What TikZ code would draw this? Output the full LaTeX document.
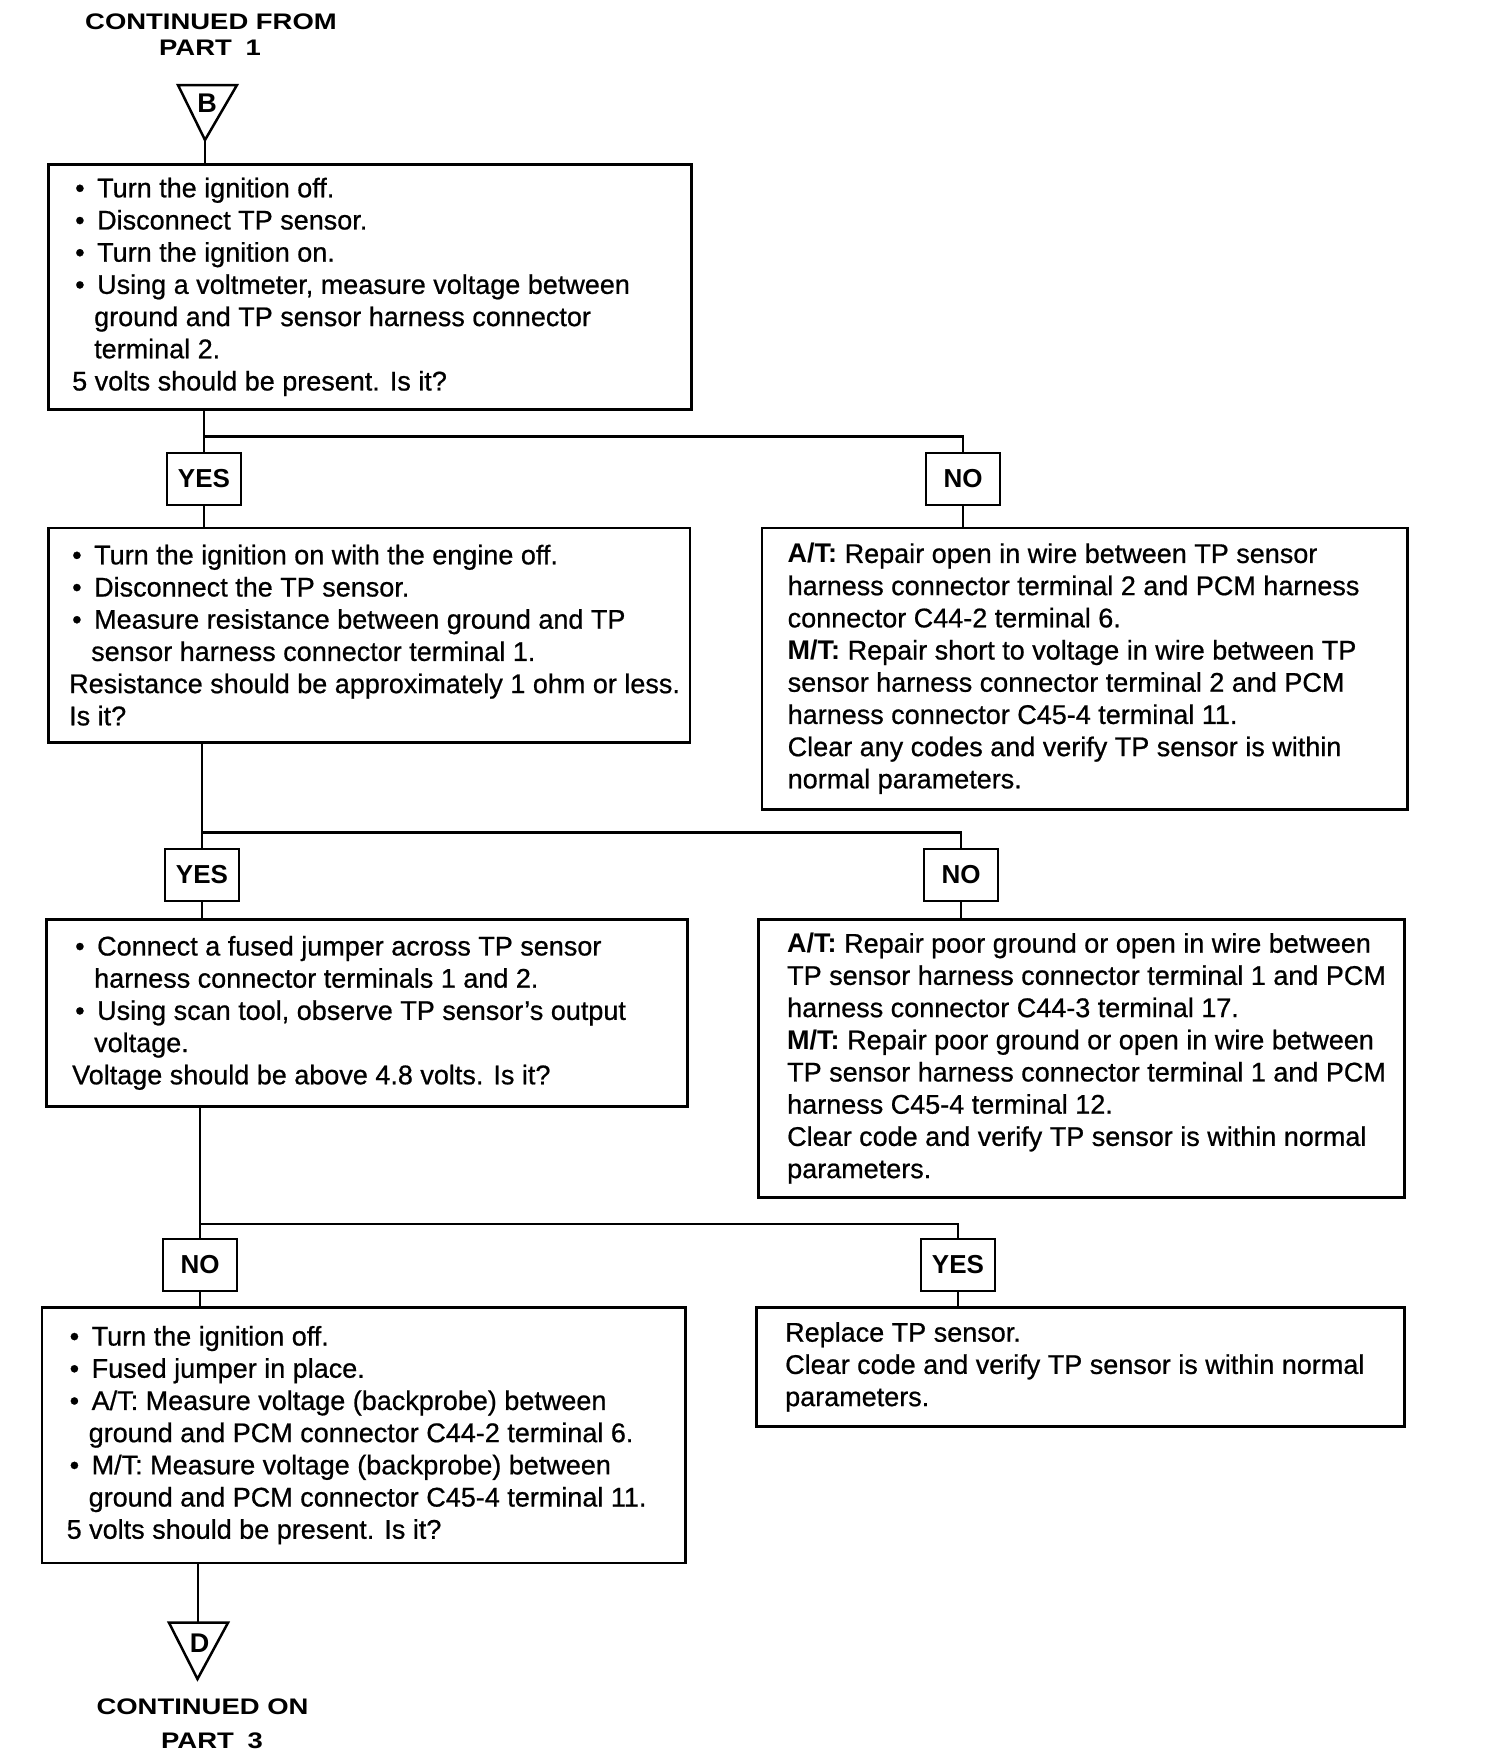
\documentclass[tikz,border=0pt]{standalone}
\usepackage{fontspec}
\setmainfont{Liberation Sans}[UprightFeatures={FakeBold=0.7}]
\newcommand{\bul}{\hspace*{3pt}\makebox[22pt][l]{\textbullet}}
\newcommand{\hng}{\hspace*{22pt}}
\begin{document}
\begin{tikzpicture}[x=1pt,y=-1pt,
  stepbox/.style={draw, line width=2.8pt, rectangle, inner sep=0pt, anchor=north west},
  txt/.style={font=\fontsize{27}{32.2}\selectfont, align=left, inner sep=0pt, anchor=west},
  ans/.style={draw, line width=2.6pt, minimum width=74pt, minimum height=52pt, inner sep=0pt, font=\fontsize{26}{26}\bfseries\selectfont},
  conn/.style={line width=2.5pt},
  hdr/.style={font=\fontsize{22.5}{22.5}\bfseries\selectfont, inner sep=0pt},
  letter/.style={font=\fontsize{27}{27}\bfseries\selectfont, inner sep=0pt}]
\useasboundingbox (0,0) rectangle (1504,1764);

% header
\node[hdr] (from) at (211,22) {\scalebox{1.22}[1]{CONTINUED FROM}};
\node[hdr] (p1) at (210,48) {\scalebox{1.22}[1]{PART\hspace{0.5em}1}};
\draw[conn] (178,85) -- (237,85) -- (205,140) -- cycle;
\coordinate (apB) at (205,140);
\node[letter] (lB) at (207,103) {B};

% boxes
\node[stepbox, minimum width=643pt, minimum height=245pt] (b1) at (47,163) {};
\node[txt] (t1) at ([xshift=25pt]b1.west) {\bul Turn the ignition off.\\
\bul Disconnect TP sensor.\\
\bul Turn the ignition on.\\
\bul Using a voltmeter, measure voltage between\\
\hng ground and TP sensor harness connector\\
\hng terminal 2.\\
5 volts should be present. Is it?};

\node[ans] (y1) at (204,479) {YES};
\node[ans] (n1) at (963,479) {NO};
\coordinate (j1) at (0,436.5);

\node[stepbox, minimum width=641.5pt, minimum height=214.5pt] (b2) at (47,526.5) {};
\node[txt] (t2) at ([xshift=22pt]b2.west) {\bul Turn the ignition on with the engine off.\\
\bul Disconnect the TP sensor.\\
\bul Measure resistance between ground and TP\\
\hng sensor harness connector terminal 1.\\
Resistance should be approximately 1 ohm or less.\\
Is it?};

\node[stepbox, minimum width=645.5pt, minimum height=281.5pt] (b3) at (760.5,526.5) {};
\node[txt] (t3) at ([xshift=27pt]b3.west) {\textbf{A/T:} Repair open in wire between TP sensor\\
harness connector terminal 2 and PCM harness\\
connector C44-2 terminal 6.\\
\textbf{M/T:} Repair short to voltage in wire between TP\\
sensor harness connector terminal 2 and PCM\\
harness connector C45-4 terminal 11.\\
Clear any codes and verify TP sensor is within\\
normal parameters.};

\node[ans] (y2) at (202,875) {YES};
\node[ans] (n2) at (961,875) {NO};
\coordinate (j2) at (0,832.5);

\node[stepbox, minimum width=641pt, minimum height=187pt] (b4) at (45,918) {};
\node[txt] (t4) at ([xshift=27pt]b4.west) {\bul Connect a fused jumper across TP sensor\\
\hng harness connector terminals 1 and 2.\\
\bul Using scan tool, observe TP sensor's output\\
\hng voltage.\\
Voltage should be above 4.8 volts. Is it?};

\node[stepbox, minimum width=646pt, minimum height=278pt] (b5) at (757,918) {};
\node[txt] (t5) at ([xshift=30pt]b5.west) {\textbf{A/T:} Repair poor ground or open in wire between\\
TP sensor harness connector terminal 1 and PCM\\
harness connector C44-3 terminal 17.\\
\textbf{M/T:} Repair poor ground or open in wire between\\
TP sensor harness connector terminal 1 and PCM\\
harness C45-4 terminal 12.\\
Clear code and verify TP sensor is within normal\\
parameters.};

\node[ans] (n3) at (200,1265) {NO};
\node[ans] (y3) at (958,1265) {YES};
\coordinate (j3) at (0,1224);

\node[stepbox, minimum width=643.5pt, minimum height=255.5pt] (b6) at (40.5,1306) {};
\node[txt] (t6) at ([xshift=26pt]b6.west) {\bul Turn the ignition off.\\
\bul Fused jumper in place.\\
\bul A/T: Measure voltage (backprobe) between\\
\hng ground and PCM connector C44-2 terminal 6.\\
\bul M/T: Measure voltage (backprobe) between\\
\hng ground and PCM connector C45-4 terminal 11.\\
5 volts should be present. Is it?};

\node[stepbox, minimum width=648pt, minimum height=119pt] (b7) at (755,1306) {};
\node[txt] (t7) at ([xshift=30pt]b7.west) {Replace TP sensor.\\
Clear code and verify TP sensor is within normal\\
parameters.};

% footer triangle
\draw[conn] (169,1622.7) -- (228,1622.7) -- (197.5,1679) -- cycle;
\coordinate (topD) at (198,1622.7);
\node[letter] (lD) at (199.5,1643) {D};
\node[hdr] (on) at (202.5,1707) {\scalebox{1.22}[1]{CONTINUED ON}};
\node[hdr] (p3) at (212,1741) {\scalebox{1.22}[1]{PART\hspace{0.5em}3}};

% connectors
\draw[conn] (apB) -- (apB |- b1.north);
\draw[conn] (y1.north |- b1.south) -- (y1.north);
\draw[conn] (y1.north |- j1) -| (n1.north);
\draw[conn] (y1.south) -- (y1.south |- b2.north);
\draw[conn] (n1.south) -- (n1.south |- b3.north);

\draw[conn] (y2.north |- b2.south) -- (y2.north);
\draw[conn] (y2.north |- j2) -| (n2.north);
\draw[conn] (y2.south) -- (y2.south |- b4.north);
\draw[conn] (n2.south) -- (n2.south |- b5.north);

\draw[conn] (n3.north |- b4.south) -- (n3.north);
\draw[conn] (n3.north |- j3) -| (y3.north);
\draw[conn] (n3.south) -- (n3.south |- b6.north);
\draw[conn] (y3.south) -- (y3.south |- b7.north);

\draw[conn] (topD |- b6.south) -- (topD);
\end{tikzpicture}
\end{document}
